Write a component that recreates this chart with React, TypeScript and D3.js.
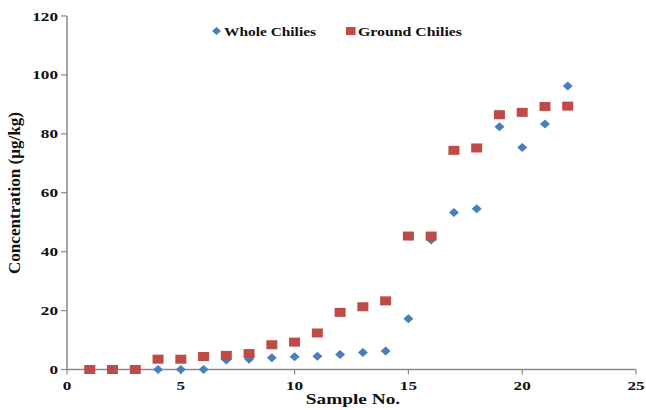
import React from "react";
import * as d3 from "d3";

const samples = [1, 2, 3, 4, 5, 6, 7, 8, 9, 10, 11, 12, 13, 14, 15, 16, 17, 18, 19, 20, 21, 22];
const wholeChilies = [0, 0, 0, 0, 0, 0, 3.2, 3.5, 4.0, 4.3, 4.5, 5.1, 5.8, 6.3, 17.2, 44.0, 53.3, 54.6, 82.4, 75.4, 83.3, 96.2];
const groundChilies = [0, 0, 0, 3.5, 3.5, 4.4, 4.8, 5.4, 8.4, 9.3, 12.4, 19.4, 21.3, 23.3, 45.3, 45.3, 74.4, 75.2, 86.5, 87.3, 89.3, 89.4];
const xTicks = [0, 5, 10, 15, 20, 25];
const yTicks = [0, 20, 40, 60, 80, 100, 120];
const seriesNames = ["Whole Chilies", "Ground Chilies"];
const xTitle = "Sample No.";
const yTitle = "Concentration (\u00b5g/kg)";

const W = 646;
const H = 410;
const BLUE = "#4A7EBB";
const RED = "#BE4B48";
const AXIS = "#8A8A8A";
const FONT = "'Liberation Serif', 'Times New Roman', serif";
const SX = 1.32;

export default function App() {
  const x = d3.scaleLinear().domain([0, 25]).range([67, 636]);
  const y = d3.scaleLinear().domain([0, 120]).range([369.5, 16]);

  const diamond = (cx: number, cy: number, hw: number, hh: number) =>
    `M${cx},${cy - hh}L${cx + hw},${cy}L${cx},${cy + hh}L${cx - hw},${cy}Z`;

  return (
    <svg
      width={W}
      height={H}
      style={{ position: "absolute", left: 0, top: 0, background: "#fff" }}
      fontFamily={FONT}
      fontWeight="bold"
    >
      <rect x={0} y={0} width={W} height={H} fill="#fff" />
      {/* axes */}
      <line x1={x(0)} x2={x(0)} y1={y(120)} y2={y(0)} stroke={AXIS} strokeWidth={1.5} />
      <line x1={x(0)} x2={x(25)} y1={y(0)} y2={y(0)} stroke={AXIS} strokeWidth={1.5} />
      {yTicks.map((t) => (
        <g key={"y" + t}>
          <line x1={x(0) - 6} x2={x(0)} y1={y(t)} y2={y(t)} stroke={AXIS} strokeWidth={1.2} />
          <text
            transform={`translate(${x(0) - 9},${y(t) + 4.5}) scale(${SX},1)`}
            textAnchor="end"
            fontSize={13}
            fill="#111"
          >
            {t}
          </text>
        </g>
      ))}
      {xTicks.map((t) => (
        <g key={"x" + t}>
          <line x1={x(t)} x2={x(t)} y1={y(0)} y2={y(0) + 5} stroke={AXIS} strokeWidth={1.2} />
          <text
            transform={`translate(${x(t)},${389.5}) scale(${SX},1)`}
            textAnchor="middle"
            fontSize={13}
            fill="#111"
          >
            {t}
          </text>
        </g>
      ))}
      {/* axis titles */}
      <text
        transform={`translate(${353},${404}) scale(1.38,1)`}
        textAnchor="middle"
        fontSize={14}
        fill="#111"
      >
        {xTitle}
      </text>
      <text
        transform={`translate(${20},${193}) scale(1.1,1) rotate(-90)`}
        textAnchor="middle"
        fontSize={15}
        textLength={162}
        lengthAdjust="spacingAndGlyphs"
        fill="#111"
      >
        {yTitle}
      </text>
      {/* series: whole first, ground on top */}
      {samples.map((s, i) => (
        <path key={"w" + s} d={diamond(x(s), y(wholeChilies[i]), 5, 4.5)} fill={BLUE} />
      ))}
      {samples.map((s, i) => (
        <rect
          key={"g" + s}
          x={x(s) - 5.5}
          y={y(groundChilies[i]) - 4.5}
          width={11}
          height={9}
          fill={RED}
        />
      ))}
      {/* legend */}
      <path d={diamond(216.5, 31, 4.5, 4)} fill={BLUE} />
      <text x={224} y={35.5} fontSize={12.5} textLength={92} lengthAdjust="spacingAndGlyphs" fill="#111">
        {seriesNames[0]}
      </text>
      <rect x={346} y={27} width={9.5} height={8} fill={RED} />
      <text x={358} y={35.5} fontSize={12.5} textLength={104} lengthAdjust="spacingAndGlyphs" fill="#111">
        {seriesNames[1]}
      </text>
    </svg>
  );
}
